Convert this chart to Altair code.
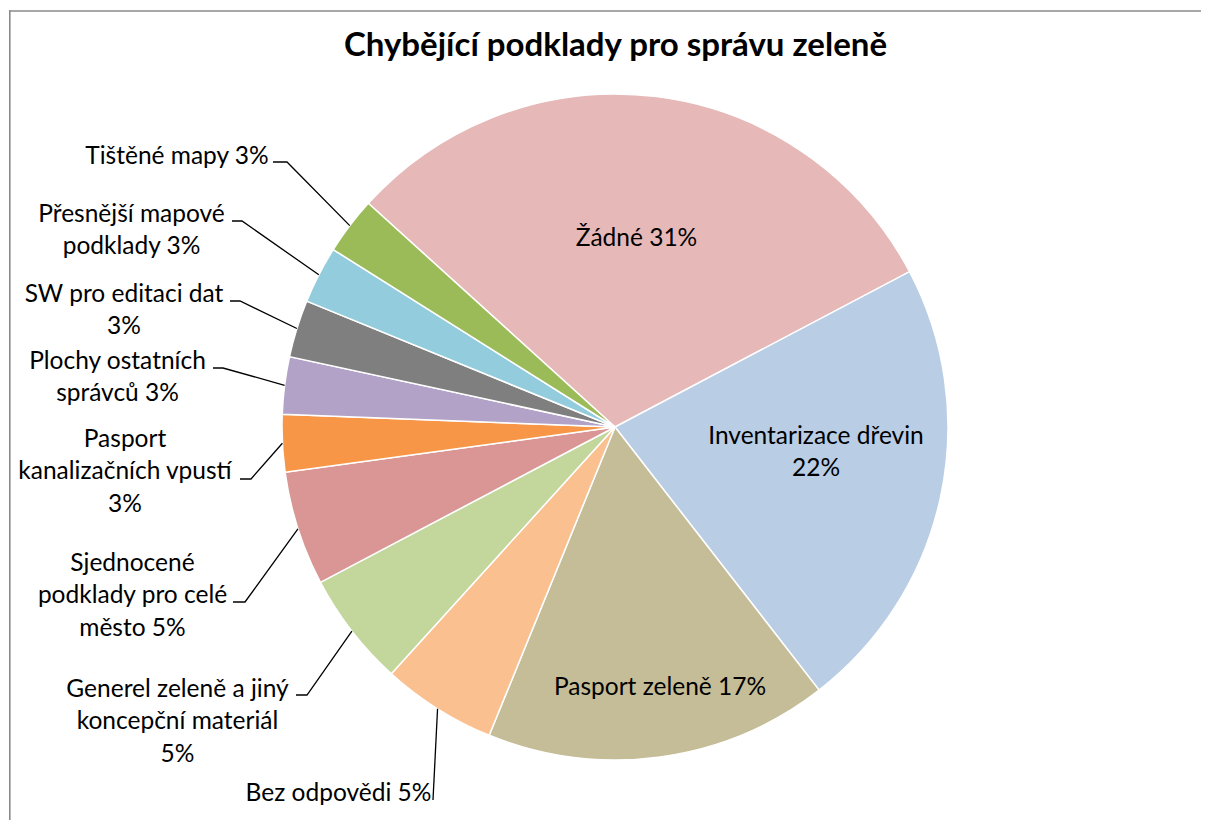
import math
import altair as alt
import pandas as pd

# ---------------- data ----------------
TITLE = "Chybějící podklady pro správu zeleně"
categories = [
    "Žádné",
    "Inventarizace dřevin",
    "Pasport zeleně",
    "Bez odpovědi",
    "Generel zeleně a jiný koncepční materiál",
    "Sjednocené podklady pro celé město",
    "Pasport kanalizačních vpustí",
    "Plochy ostatních správců",
    "SW pro editaci dat",
    "Přesnější mapové podklady",
    "Tištěné mapy",
]
counts = [11, 8, 6, 2, 2, 2, 1, 1, 1, 1, 1]
percents = [31, 22, 17, 5, 5, 5, 3, 3, 3, 3, 3]
# label text as wrapped in the picture
label_text = [
    "Žádné 31%",
    "Inventarizace dřevin\n22%",
    "Pasport zeleně 17%",
    "Bez odpovědi 5%",
    "Generel zeleně a jiný\nkoncepční materiál\n5%",
    "Sjednocené\npodklady pro celé\nměsto 5%",
    "Pasport\nkanalizačních vpustí\n3%",
    "Plochy ostatních\nsprávců 3%",
    "SW pro editaci dat\n3%",
    "Přesnější mapové\npodklady 3%",
    "Tištěné mapy 3%",
]
colors = [
    "#E6B9B8", "#B9CDE5", "#C4BD97", "#FAC090", "#C3D69B", "#D99694",
    "#F79646", "#B3A2C7", "#7F7F7F", "#93CDDD", "#9BBB59",
]

# ---------------- layout ----------------
W, H = 1193, 812          # view size; page margin 8px
CX, CY, R = 615, 427, 333  # pie centre/radius in page pixels
START_DEG = 312.2
FONT = "Lato"
LABEL_SIZE = 24.5
LINE_H = 32.7

label_x = [636.5, 816, 660, 338.5, 177.5, 132.5, 125, 117.5, 124, 131.5, 177]
# baseline of the first line of each label
label_y = [246, 443.5, 694.5, 801, 696.5, 570.5, 446.5, 368.5, 301.5, 221.5, 163.5]
# leader line anchor points (page pixels) near the label, per category
leader_pts = [
    None, None, None,
    [(433, 800)],
    [(296, 695), (307, 695)],
    [(233, 602), (245, 602)],
    [(240, 479), (251, 479)],
    [(213, 368), (223, 368)],
    [(230, 301), (240, 301)],
    [(232, 221), (242, 221)],
    [(273, 162), (287, 162)],
]

# ---------------- tables ----------------
total = sum(counts)
pie_df = pd.DataFrame({
    "cat": categories,
    "count": counts,
    "pct": percents,
    "idx": list(range(len(categories))),
})

lab_df = pd.DataFrame({"text": label_text, "x": label_x, "y": label_y})

rows = []
cum = 0
for i, c in enumerate(counts):
    mid = math.radians(START_DEG + (cum + c / 2) / total * 360)
    cum += c
    pts = leader_pts[i]
    if not pts:
        continue
    ex = CX + R * math.sin(mid)
    ey = CY - R * math.cos(mid)
    seq = list(pts) + [(ex, ey)]
    for k, (px, py) in enumerate(seq):
        rows.append({"cat": categories[i], "pt": k, "x": px, "y": py})
line_df = pd.DataFrame(rows)

title_df = pd.DataFrame({"t": [TITLE], "x": [615.5], "y": [56]})

xs = alt.Scale(domain=[8, 8 + W], nice=False, zero=False)
ys = alt.Scale(domain=[8, 8 + H], nice=False, zero=False, reverse=True)

start = math.radians(START_DEG)
pie = alt.Chart(pie_df).mark_arc(
    outerRadius=R, stroke="white", strokeWidth=1.5, x=CX - 8, y=CY - 8
).encode(
    theta=alt.Theta("count:Q", stack=True,
                    scale=alt.Scale(range=[start, start + 2 * math.pi])),
    color=alt.Color("cat:N", scale=alt.Scale(domain=categories, range=colors),
                    legend=None),
    order=alt.Order("idx:Q"),
)

leaders = alt.Chart(line_df).mark_line(color="black", strokeWidth=1.3).encode(
    x=alt.X("x:Q", scale=xs, axis=None),
    y=alt.Y("y:Q", scale=ys, axis=None),
    detail="cat:N",
    order="pt:Q",
)

labels = alt.Chart(lab_df).mark_text(
    font=FONT, fontSize=LABEL_SIZE, color="black", lineBreak="\n",
    lineHeight=LINE_H, align="center", baseline="alphabetic",
).encode(
    x=alt.X("x:Q", scale=xs, axis=None),
    y=alt.Y("y:Q", scale=ys, axis=None),
    text="text:N",
)

title = alt.Chart(title_df).mark_text(
    font=FONT, fontSize=33, fontWeight="bold", color="black",
    align="center", baseline="alphabetic",
).encode(
    x=alt.X("x:Q", scale=xs, axis=None),
    y=alt.Y("y:Q", scale=ys, axis=None),
    text="t:N",
)

frame = pd.DataFrame({"a": [0]})
border_left = alt.Chart(frame).mark_rect(color="#8a8a8a").encode(
    x=alt.value(1), x2=alt.value(2.6), y=alt.value(2.2), y2=alt.value(H),
)
border_top = alt.Chart(frame).mark_rect(color="#8a8a8a").encode(
    x=alt.value(1), x2=alt.value(W), y=alt.value(2.2), y2=alt.value(3.8),
)

chart = alt.layer(border_left, border_top, pie, leaders, labels, title).properties(
    width=W, height=H, padding=0,
    autosize=alt.AutoSizeParams(type="none"),
    background="white",
).configure_view(stroke="transparent", strokeWidth=0)

chart.save("out.html", embed_options={"renderer": "svg", "actions": False})
